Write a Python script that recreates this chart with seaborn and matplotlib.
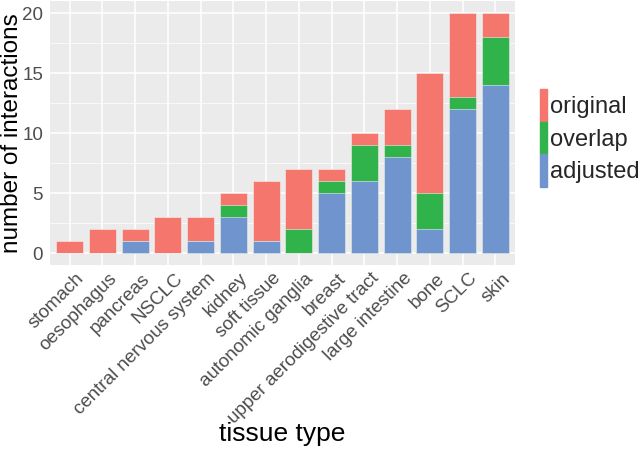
import numpy as np
import pandas as pd
import matplotlib
matplotlib.use("Agg")
import matplotlib.pyplot as plt
import matplotlib.patches as mpatches
import matplotlib.transforms as mtransforms
import seaborn as sns

tissues = ["stomach", "oesophagus", "pancreas", "NSCLC", "central nervous system",
           "kidney", "soft tissue", "autonomic ganglia", "breast",
           "upper aerodigestive tract", "large intestine", "bone", "SCLC", "skin"]
adjusted = [0, 0, 1, 0, 1, 3, 1, 0, 5, 6, 8, 2, 12, 14]
overlap = [0, 0, 0, 0, 0, 1, 0, 2, 1, 3, 1, 3, 1, 4]
original = [1, 2, 1, 3, 2, 1, 5, 5, 1, 1, 3, 10, 7, 2]

colors = {"original": "#F4766D", "overlap": "#2FB34A", "adjusted": "#6F94CE"}

sns.set_theme(style="darkgrid", rc={"axes.facecolor": "#EBEBEB", "grid.color": "white"})
plt.rcParams["font.family"] = ["Liberation Sans", "DejaVu Sans"]

df = pd.DataFrame({"tissue": tissues, "adjusted": adjusted,
                   "overlap": overlap, "original": original})
df["top_overlap"] = df["adjusted"] + df["overlap"]
df["top_original"] = df["top_overlap"] + df["original"]

fig = plt.figure(figsize=(6.4, 4.5), dpi=100)
ax = fig.add_axes([50 / 640, 1 - 265 / 450, 465 / 640, 264 / 450])

# stacked bars: draw the totals first, then cover with the lower parts
for col, key in [("top_original", "original"), ("top_overlap", "overlap"), ("adjusted", "adjusted")]:
    sns.barplot(data=df, x="tissue", y=col, color=colors[key], width=0.83,
                saturation=1, ax=ax, edgecolor="#F2F2F2", linewidth=0.4)

ax.set_xlim(-0.6, len(tissues) - 0.4)
ax.set_ylim(-1, 21)
ax.set_yticks([0, 5, 10, 15, 20])
ax.set_yticks([2.5, 7.5, 12.5, 17.5], minor=True)
ax.grid(which="major", color="white", linewidth=1.1)
ax.grid(which="minor", axis="y", color="white", linewidth=0.5)
ax.set_axisbelow(True)
for s in ax.spines.values():
    s.set_visible(False)

ax.tick_params(axis="both", which="major", length=3, color="#333333", labelsize=13.5,
               labelcolor="#4D4D4D", pad=2)
ax.tick_params(axis="both", which="minor", length=0)
ax.set_xticks(range(len(tissues)))
ax.set_xticklabels(tissues, rotation=45, ha="right", rotation_mode="anchor", fontsize=13.5)
shift = mtransforms.ScaledTranslation(6 / 100, 2 / 100, fig.dpi_scale_trans)
for lbl in ax.get_xticklabels():
    lbl.set_transform(lbl.get_transform() + shift)

ax.set_xlabel("tissue type", fontsize=19, color="black", va="center")
ax.xaxis.set_label_coords(0.5, (265 - 434) / 264)
ax.set_ylabel("number of interactions", fontsize=17.5, color="black", va="center")
ax.yaxis.set_label_coords(-38 / 465, 0.5)

handles = [mpatches.Patch(color=colors[k], label=k) for k in ["original", "overlap", "adjusted"]]
leg = fig.legend(handles=handles, loc="center left", bbox_to_anchor=(528 / 640, 1 - 138 / 450),
                 frameon=False, fontsize=17, handlelength=0.3, handleheight=1.75,
                 labelspacing=0, handletextpad=0.15, borderpad=0)

fig.savefig("out.png", dpi=100)
